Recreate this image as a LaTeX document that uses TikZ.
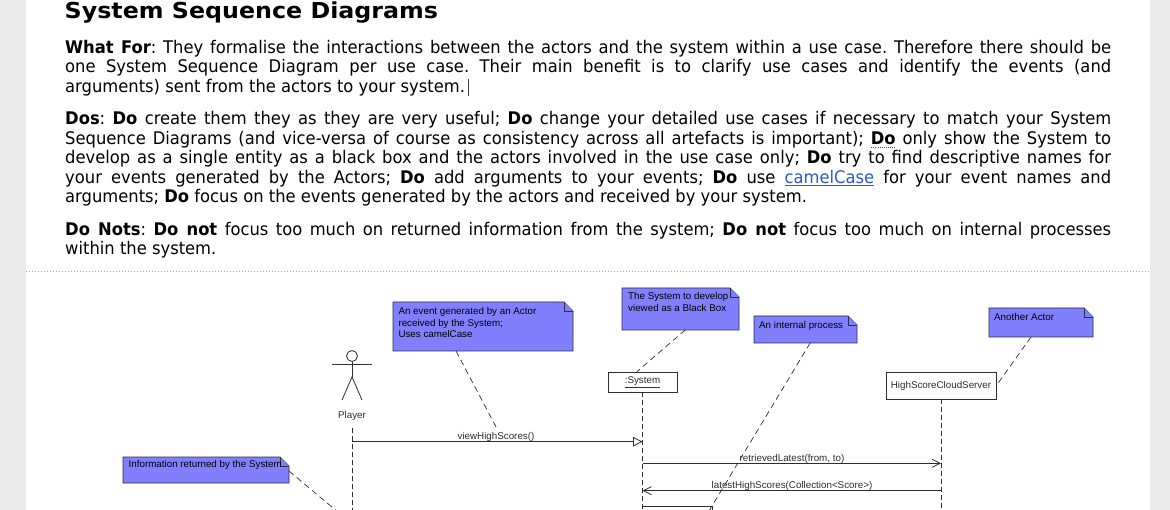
\documentclass[tikz,border=0pt]{standalone}
\usepackage{fontspec}
\setmainfont{DejaVu Sans}[FakeStretch=0.94]
\newfontfamily\titlefont{DejaVu Sans}[FakeStretch=1.08]
\newfontfamily\diafont{Liberation Sans}
\usetikzlibrary{arrows.meta,calc}
\definecolor{notefill}{RGB}{128,128,255}
\definecolor{noteline}{RGB}{45,45,70}
\definecolor{diaink}{RGB}{45,45,45}
\definecolor{stripgray}{RGB}{235,235,235}
\definecolor{sepgray}{RGB}{170,170,170}
\definecolor{linkblue}{RGB}{40,90,210}
\frenchspacing
\newcommand\spellerr[1]{\setbox0=\hbox{#1}\rlap{\color{red}\raisebox{-3.5pt}{\hbox to \wd0{\xleaders\hbox to 2pt{\hss\vrule width 1pt height 1pt\hss}\hfill}}}\box0\relax}
\newcommand\weblink[1]{{\color{linkblue}\underline{#1}}}
% name, x, y, w, h, textx, texty, text
\newcommand\umlnote[8]{%
  \node[notebase, minimum width=#4, minimum height=#5, anchor=north west] (#1) at (#2,#3) {};
  \filldraw[notestyle] (#1.north west) -- ([xshift=-9pt]#1.north east) -- ([yshift=-9pt]#1.north east) -- (#1.south east) -- (#1.south west) -- cycle;
  \draw[notestyle] ([xshift=-9pt]#1.north east) |- ([yshift=-9pt]#1.north east);
  \node[notetext] (#1t) at (#6,#7) {\begin{tabular}[t]{@{}l@{}}#8\end{tabular}};
}
\begin{document}
\begin{tikzpicture}[x=1pt,y=-1pt,
  bodyl/.style={anchor=base west, inner sep=0, font=\fontsize{17.4}{19.4}\selectfont\frenchspacing},
  notebase/.style={inner sep=0, outer sep=0},
  notestyle/.style={fill=notefill, draw=noteline, line width=0.8pt},
  notetext/.style={anchor=base west, inner sep=0, text=black, font=\diafont\fontsize{9.8}{11.6}\selectfont},
  dlabel/.style={inner sep=0, text=diaink, font=\diafont\fontsize{9.8}{11.6}\selectfont},
  objbox/.style={draw=diaink, fill=white, line width=0.8pt, inner sep=0, text=diaink, font=\diafont\fontsize{9.8}{11.6}\selectfont},
  lifeline/.style={draw=diaink, line width=0.8pt, dash pattern=on 5pt off 3pt},
  conn/.style={draw=diaink, line width=0.7pt, dash pattern=on 6pt off 4pt},
  msg/.style={draw=diaink, line width=0.8pt},
  figure/.style={draw=diaink, line width=0.8pt}
]
\useasboundingbox (0,0) rectangle (1170,510);
\clip (0,0) rectangle (1170,510);
\fill[white] (0,0) rectangle (1170,510);
\fill[stripgray] (0,0) rectangle (26,510);
\fill[stripgray] (1150,0) rectangle (1170,510);
\draw[sepgray, line width=1pt, dash pattern=on 1pt off 2pt] (26,271.5) -- (1150,271.5);

% ---------- text ----------
\node[anchor=base west, inner sep=0] (title) at (64.5,18.8) {\titlefont\bfseries\fontsize{22}{26}\selectfont System Sequence Diagrams};

\node[bodyl] (a1) at (65,53.3) {\hbox to 1046pt{\textbf{What For}: They formalise the interactions between the actors and the system within a use case. Therefore there should be}};
\node[bodyl] (a2) at (65,72.7) {\hbox to 1046pt{one System Sequence Diagram per use case. Their main benefit is to clarify use cases and identify the events (and}};
\node[bodyl] (a3) at (65,92.1) {arguments) sent from the actors to your system.};
\draw[black!75, line width=1pt] (468.5,79) -- (468.5,96);

\node[bodyl] (b1) at (65,125) {\hbox to 1046pt{\textbf{Dos}: \textbf{Do} create them they as they are very useful; \textbf{Do} change your detailed use cases if necessary to match your System}};
\node[bodyl] (b2) at (65,144.4) {\hbox to 1046pt{Sequence Diagrams (and vice-versa of course as consistency across all artefacts is important); \spellerr{\textbf{Do}} only show the System to}};
\node[bodyl] (b3) at (65,163.8) {\hbox to 1046pt{develop as a single entity as a black box and the actors involved in the use case only; \textbf{Do} try to find descriptive names for}};
\node[bodyl] (b4) at (65,183.2) {\hbox to 1046pt{your events generated by the Actors; \textbf{Do} add arguments to your events; \textbf{Do} use \weblink{camelCase} for your event names and}};
\node[bodyl] (b5) at (65,202.6) {arguments; \textbf{Do} focus on the events generated by the actors and received by your system.};

\node[bodyl] (c1) at (65,235.2) {\hbox to 1046pt{\textbf{Do Nots}: \textbf{Do not} focus too much on returned information from the system; \textbf{Do not} focus too much on internal processes}};
\node[bodyl] (c2) at (65,254.6) {within the system.};

% ---------- diagram ----------
\coordinate (bottom) at (0,518);

% notes
\umlnote{n1}{393}{302}{180}{49}{398.3}{314.5}{An event generated by an Actor\\received by the System;\\Uses camelCase}
\umlnote{n2}{622}{288}{117}{42}{628}{299.5}{The System to develop\\viewed as a Black Box}
\umlnote{n3}{754}{316}{103}{27}{759}{328.5}{An internal process}
\umlnote{n4}{989}{308}{104}{29}{994}{320.5}{Another Actor}
\umlnote{n5}{123}{457}{166}{26}{128.5}{467.5}{Information returned by the System}

% actor
\node[circle, figure, minimum size=11pt, inner sep=0] (head) at (352,356) {};
\coordinate (hip) at (352,377);
\coordinate (larm) at (332,364);
\coordinate (rarm) at (372,364);
\coordinate (lfoot) at (342,400);
\coordinate (rfoot) at (362,400);
\draw[figure] (head.south) -- (hip);
\draw[figure] (larm) -- (rarm);
\draw[figure] (lfoot) -- (hip) -- (rfoot);
\node[dlabel, anchor=base] (player) at (352,419) {Player};

% objects
\node[objbox, minimum width=69pt, minimum height=20pt] (sys) at (642.5,382) {\underline{:System}};
\node[objbox, minimum width=110pt, minimum height=27pt] (hs) at (941,385.5) {HighScoreCloudServer};

% lifelines
\coordinate (ptop) at (352,428);
\draw[lifeline] (ptop) -- (ptop |- bottom);
\draw[lifeline] (sys.south) -- (sys.south |- bottom);
\draw[lifeline] (hs.south) -- (hs.south |- bottom);

% messages
\coordinate (y1) at (0,441.7);
\coordinate (y2) at (0,463.3);
\coordinate (y3) at (0,490.7);
\coordinate (y4) at (0,506);
\draw[msg, -{Triangle[length=9.5pt, width=9.5pt, fill=white]}] (ptop |- y1) -- (sys.south |- y1);
\node[dlabel, anchor=base] (l1) at (496,439.2) {viewHighScores()};
\draw[msg, -{Straight Barb[length=8pt, width=8pt]}] (sys.south |- y2) -- (hs.south |- y2);
\node[dlabel, anchor=base] (l2) at (792,461) {retrievedLatest(from, to)};
\draw[msg, -{Straight Barb[length=8pt, width=8pt]}] (hs.south |- y3) -- (sys.south |- y3);
\node[dlabel, anchor=base] (l3) at (792,488.5) {latestHighScores(Collection<Score>)};
\coordinate (selfc) at (712,506);
\draw[msg] (sys.south |- y4) -- (selfc) -- (selfc |- bottom);

% note connectors
\draw[conn] ($(n1.south west)!0.35!(n1.south east)$) -- ([yshift=5pt]l1.north);
\draw[conn] ($(n2.south west)!0.54!(n2.south east)$) -- ([xshift=-5.5pt]sys.north);
\coordinate (c3s) at ($(n3.south west)!0.545!(n3.south east)$);
\draw[conn] (c3s) -- ($(c3s)!1.1!(selfc)$);
\draw[conn] ($(n4.south west)!0.404!(n4.south east)$) -- (hs.east);
\coordinate (c5e) at (345,518);
\draw[conn] ([yshift=-1pt]n5.east) -- (c5e);
\end{tikzpicture}
\end{document}
